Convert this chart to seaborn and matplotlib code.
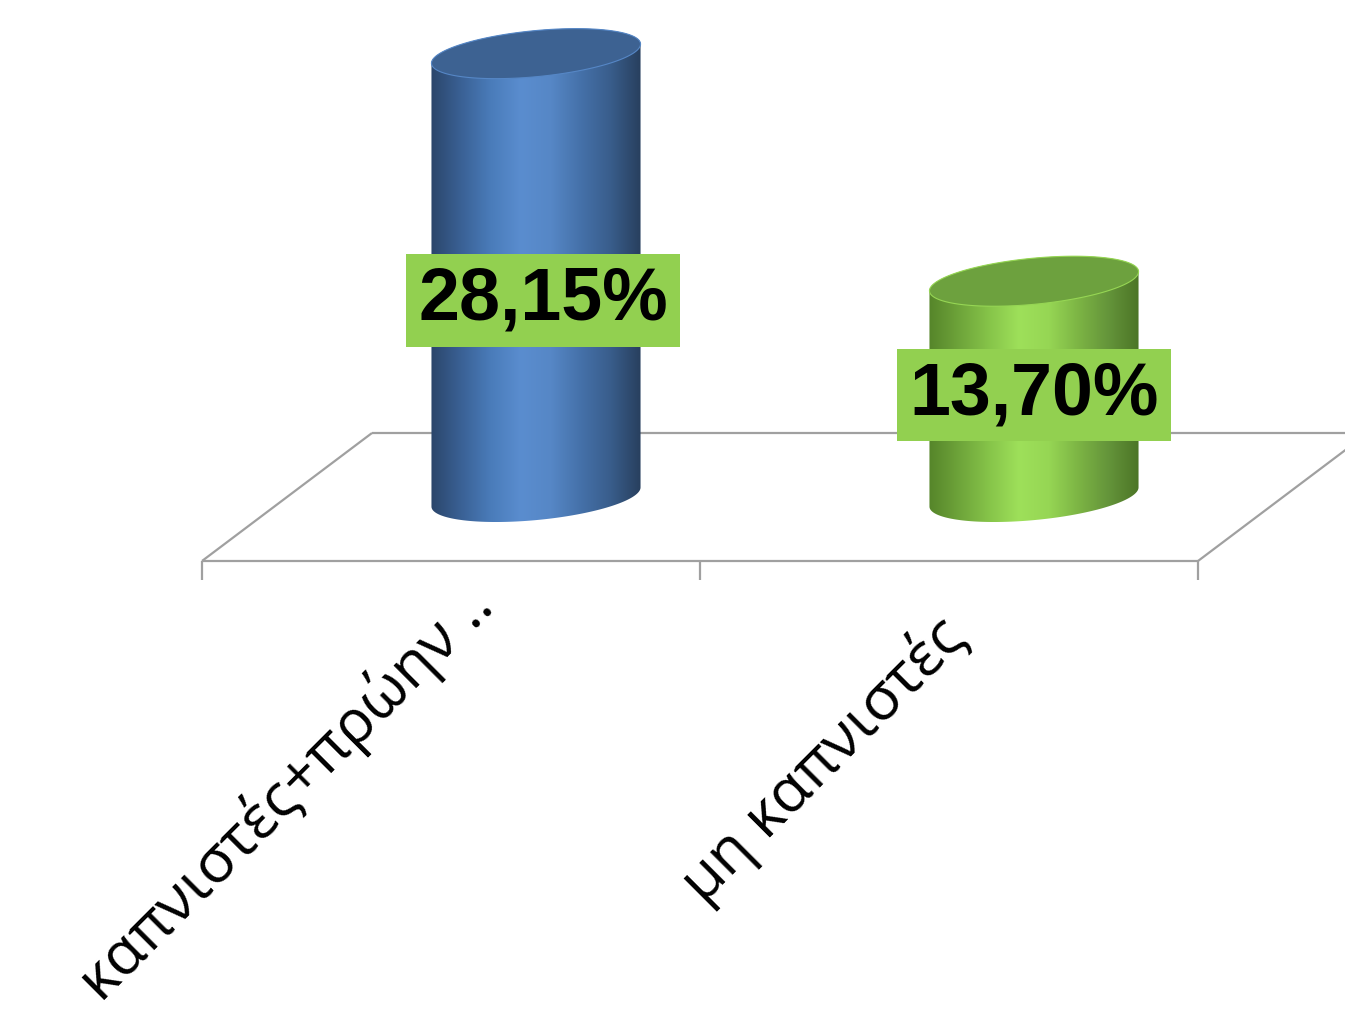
import numpy as np
import matplotlib
matplotlib.use("Agg")
import matplotlib.pyplot as plt
import seaborn as sns
from matplotlib.patches import Polygon
from matplotlib.colors import LinearSegmentedColormap

# ---- data -------------------------------------------------------------
categories = ["καπνιστές+πρώην ..", "μη καπνιστές"]
percent = [28.15, 13.70]
value_text = ["28,15%", "13,70%"]

# ---- styling ----------------------------------------------------------
side_stops = [
    ["#2b466b", "#3a6195", "#4a7cba", "#5a8dcf", "#5687c6", "#4571a9", "#395d8b", "#283f5e"],
    ["#56852a", "#6ea43a", "#86c449", "#9ee05a", "#96d654", "#7cb444", "#64943a", "#4c7526"],
]
top_colors = ["#3d6292", "#6da13e"]
label_bg = "#92D050"
floor_color = "#a0a0a0"

W, H, DPI = 1345, 1015, 100
sns.set_theme(style="white")
plt.rcParams["font.family"] = ["Open Sans", "DejaVu Sans"]

fig = plt.figure(figsize=(W / DPI, H / DPI), dpi=DPI)
fig.patch.set_facecolor("white")

# front edge of the floor (pixels) and vertical scale
x_left, x_right = 202, 1198
floor_y = H - 561
px_per_pct = 15.75
y_top = 36
ax = fig.add_axes([x_left / W, floor_y / H, (x_right - x_left) / W,
                   y_top * px_per_pct / H])

sns.barplot(x=categories, y=percent, ax=ax)
bars = list(ax.patches)
centers = [b.get_x() + b.get_width() / 2 for b in bars]
heights = [b.get_height() for b in bars]
for b in bars:
    b.set_visible(False)
ax.set_xlim(-0.5, 1.5)
ax.set_ylim(0, y_top)
ax.axis("off")
ax.set_autoscale_on(False)

to_px = ax.transData.transform
to_data = ax.transData.inverted().transform

depth = np.array([170.0, 128.0])   # full floor depth in pixels
half = depth / 2

# ---- floor ------------------------------------------------------------
p0, p1 = to_px([(-0.5, 0), (1.5, 0)])
edges = [(p0, p1), (p1, p1 + depth), (p0 + depth, p1 + depth), (p0, p0 + depth)]
for a, b in edges:
    seg = to_data(np.array([a, b]))
    ax.plot(seg[:, 0], seg[:, 1], color=floor_color, lw=1.6, clip_on=False,
            zorder=1, solid_capstyle="butt")
for xt in (-0.5, 0.5, 1.5):
    q = to_px((xt, 0))
    seg = to_data(np.array([q, q - np.array([0, 19])]))
    ax.plot(seg[:, 0], seg[:, 1], color=floor_color, lw=1.6, clip_on=False,
            zorder=1, solid_capstyle="butt")

# ---- cylinders --------------------------------------------------------
a_r, b_r, theta = 105.0, 23.0, np.deg2rad(5.5)
u = np.array([np.cos(theta), np.sin(theta)])
v = np.array([-np.sin(theta), np.cos(theta)])
t0 = np.arctan2(-b_r * np.sin(theta), a_r * np.cos(theta))


def arc(c, t_from, t_to, n=120):
    t = np.linspace(t_from, t_to, n)
    return c + np.outer(a_r * np.cos(t), u) + np.outer(b_r * np.sin(t), v)


for i, (xc, h) in enumerate(zip(centers, heights)):
    base = to_px((xc, 0)) + half
    top = to_px((xc, h)) + half
    lower = arc(base, t0 + np.pi, t0 + 2 * np.pi)
    upper = arc(top, t0, t0 + np.pi)
    body_px = np.vstack([lower, upper])
    body = Polygon(to_data(body_px), closed=True, facecolor="none",
                   edgecolor="none", transform=ax.transData)
    ax.add_patch(body)

    cmap = LinearSegmentedColormap.from_list(f"side{i}", side_stops[i])
    grad = np.linspace(0, 1, 256)[None, :]
    xmin, ymin = to_data((body_px[:, 0].min(), body_px[:, 1].min()))
    xmax, ymax = to_data((body_px[:, 0].max(), body_px[:, 1].max()))
    im = ax.imshow(grad, cmap=cmap, aspect="auto", origin="lower",
                   extent=[xmin, xmax, ymin, ymax], zorder=3,
                   interpolation="bicubic")
    im.set_clip_path(body)

    cap = arc(top, 0, 2 * np.pi, 240)
    ax.add_patch(Polygon(to_data(cap), closed=True, facecolor=top_colors[i],
                         edgecolor=side_stops[i][4], lw=0.8, zorder=4))

    # value label
    mid = (base + top) / 2 + np.array([(7, -25), (0, -6)][i])
    lx, ly = to_data(mid)
    ax.text(lx, ly, value_text[i], ha="center", va="center", fontsize=53,
            fontweight="bold", family=["Liberation Sans", "DejaVu Sans"],
            color="black", zorder=6,
            bbox=dict(boxstyle="square,pad=0.16", facecolor=label_bg,
                      edgecolor="none"))

# ---- category labels --------------------------------------------------
for i, xc in enumerate(centers):
    anchor = to_px((xc, 0)) + np.array([(10, -13), (-16, -44)][i])
    tx, ty = to_data(anchor)
    ax.text(tx, ty, categories[i], rotation=45, rotation_mode="anchor",
            ha="right", va="top", fontsize=43.5, color="black", zorder=6)

ax.set_xlim(-0.5, 1.5)
ax.set_ylim(0, y_top)
fig.savefig("out.png", dpi=DPI, facecolor="white")
